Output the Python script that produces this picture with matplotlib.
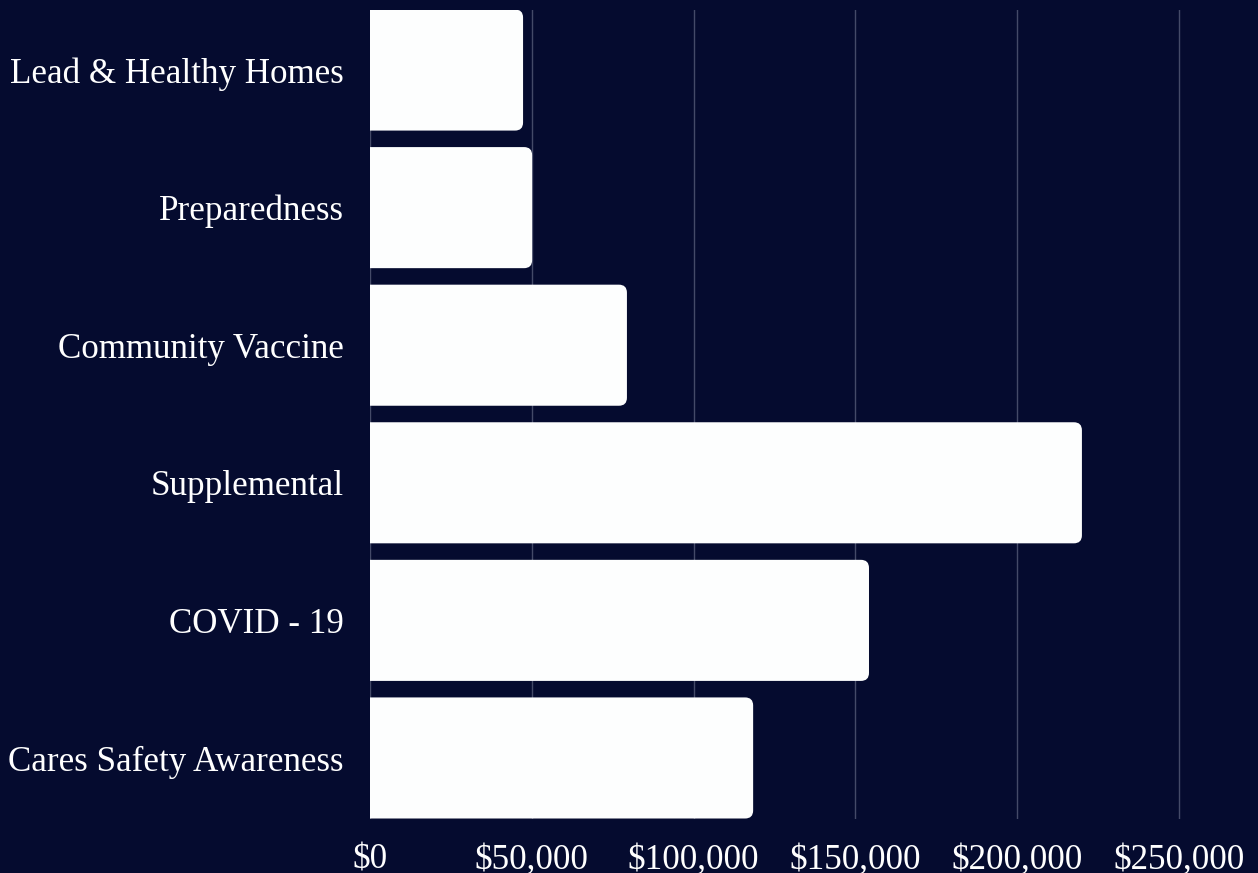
"""Program funding by grant - horizontal bars on navy."""
import matplotlib
matplotlib.use("Agg")
import matplotlib.pyplot as plt
from matplotlib.patches import FancyBboxPatch
from matplotlib.ticker import FuncFormatter

programs = ["Lead & Healthy Homes", "Preparedness", "Community Vaccine",
            "Supplemental", "COVID - 19", "Cares Safety Awareness"]
amounts = [47300, 50100, 79400, 220000, 154200, 118400]
xticks = [0, 50000, 100000, 150000, 200000, 250000]

BG = "#050b2f"
plt.rcParams["font.family"] = ["Liberation Serif", "DejaVu Serif"]

fig = plt.figure(figsize=(12.58, 8.73), dpi=100, facecolor=BG)
ax = fig.add_axes([370 / 1258, 1 - 818.5 / 873, 1 - 370 / 1258, (818.5 - 9.5) / 873])
ax.set_facecolor(BG)

# plain bars first, then swap each one for a box with rounded right corners
bars = ax.barh(range(len(programs)), amounts, height=0.88, color="none")
x_per_px = 50000 / 161.8
y_per_px = 1 / 137.6
r = 8 * x_per_px
for b in bars:
    x0, y0, w, h = b.get_x(), b.get_y(), b.get_width(), b.get_height()
    p = FancyBboxPatch((x0 - 2 * r, y0), w + 2 * r, h,
                       boxstyle=f"round,pad=0,rounding_size={r}",
                       mutation_aspect=y_per_px / x_per_px,
                       facecolor="#fdfefe", edgecolor="none", zorder=3)
    p.set_clip_path(ax.patch)
    ax.add_patch(p)

ax.set_xlim(0, (1258 - 370) * x_per_px)
ax.set_ylim(len(programs) - 0.56, -0.44)
ax.set_yticks(range(len(programs)))
ax.set_yticklabels(programs)
ax.set_xticks(xticks)
ax.xaxis.set_major_formatter(FuncFormatter(lambda v, _: f"${v:,.0f}"))
ax.tick_params(axis="y", length=0, pad=19, labelsize=25.2, labelcolor="white")
ax.tick_params(axis="x", length=0, pad=18, labelsize=25.2, labelcolor="white")
ax.grid(axis="x", color="#444a68", linewidth=1, zorder=0)
ax.set_axisbelow(True)
for s in ax.spines.values():
    s.set_visible(False)

fig.savefig("out.png", dpi=100, facecolor=BG)
